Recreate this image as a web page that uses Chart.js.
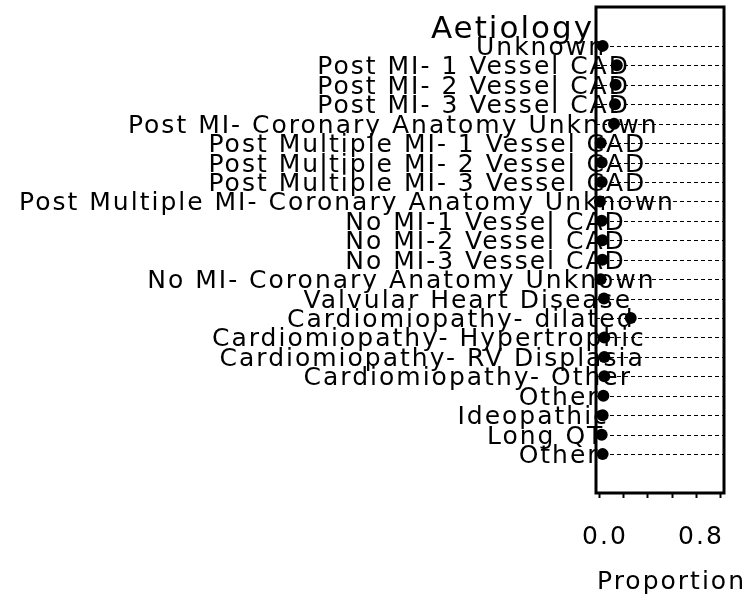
<!DOCTYPE html>
<html>
<head>
<meta charset="utf-8">
<script src="https://cdn.jsdelivr.net/npm/chart.js@4.4.0/dist/chart.umd.min.js"></script>
<style>
  html, body { margin: 0; padding: 0; background: #fff; }
  #wrap { width: 751px; height: 605px; }
</style>
</head>
<body>
<div id="wrap"><canvas id="dotChart" width="751" height="605"></canvas></div>
<script>
// Aetiology categories, top to bottom
const categories = [
    'Unknown',
    'Post MI- 1 Vessel CAD',
    'Post MI- 2 Vessel CAD',
    'Post MI- 3 Vessel CAD',
    'Post MI- Coronary Anatomy Unknown',
    'Post Multiple MI- 1 Vessel CAD',
    'Post Multiple MI- 2 Vessel CAD',
    'Post Multiple MI- 3 Vessel CAD',
    'Post Multiple MI- Coronary Anatomy Unknown',
    'No MI-1 Vessel CAD',
    'No MI-2 Vessel CAD',
    'No MI-3 Vessel CAD',
    'No MI- Coronary Anatomy Unknown',
    'Valvular Heart Disease',
    'Cardiomiopathy- dilated',
    'Cardiomiopathy- Hypertrophic',
    'Cardiomiopathy- RV Displasia',
    'Cardiomiopathy- Other',
    'Other',
    'Ideopathic',
    'Long QT',
    'Other'
];

// proportion per category
const proportions = [
    0.022, 0.140, 0.130, 0.125, 0.117,
    0.006, 0.014, 0.014, 0.000,
    0.014, 0.020, 0.020, 0.005,
    0.033, 0.256, 0.036, 0.036, 0.036,
    0.028, 0.022, 0.014, 0.022
];

const xTicks = [0, 0.2, 0.4, 0.6, 0.8, 1.0];
const xTickLabels = ['0.0', '', '', '', '0.8', ''];

const FONT = '"DejaVu Sans", sans-serif';

// dashed reference line per row, under the dots
const rowLines = {
    id: 'rowLines',
    beforeDatasetsDraw(chart) {
        const {ctx, chartArea, scales} = chart;
        ctx.save();
        ctx.strokeStyle = '#000';
        ctx.lineWidth = 1;
        ctx.setLineDash([4, 3]);
        categories.forEach((c, i) => {
            const y = Math.round(scales.y.getPixelForValue(i)) + 0.5;
            ctx.beginPath();
            ctx.moveTo(chartArea.left, y);
            ctx.lineTo(chartArea.right, y);
            ctx.stroke();
        });
        ctx.restore();
    }
};

// row labels spill over the panel, like the original device did
const rowLabels = {
    id: 'rowLabels',
    afterDatasetsDraw(chart) {
        const {ctx, chartArea, scales} = chart;
        ctx.save();
        ctx.letterSpacing = '2px';
        ctx.font = '25px ' + FONT;
        ctx.fillStyle = '#000';
        ctx.textAlign = 'left';
        ctx.textBaseline = 'alphabetic';
        const anchor = chartArea.left - 7;
        categories.forEach((c, i) => {
            const w = ctx.measureText(c).width;
            const y = scales.y.getPixelForValue(i);
            ctx.fillText(c, anchor - 0.869 * w, y + 9);
        });
        // panel title
        ctx.font = '31px ' + FONT;
        ctx.textAlign = 'right';
        ctx.fillText('Aetiology', chartArea.left - 2, 38);
        // x axis title (Chart.js would squeeze it to the panel width)
        ctx.font = '25px ' + FONT;
        ctx.textAlign = 'left';
        ctx.fillText('Proportion', chartArea.left + 1, chartArea.bottom + 96);
        ctx.restore();
    }
};

const panelBox = {
    id: 'panelBox',
    beforeDraw(chart) {
        // canvas resize wipes the state, so set the spacing here
        chart.ctx.letterSpacing = '2px';
    },
    afterDraw(chart) {
        const {ctx, chartArea} = chart;
        ctx.save();
        ctx.strokeStyle = '#000';
        ctx.lineWidth = 3;
        ctx.strokeRect(chartArea.left, chartArea.top,
            chartArea.right - chartArea.left, chartArea.bottom - chartArea.top);
        ctx.restore();
    }
};

const ctx = document.getElementById('dotChart').getContext('2d');
new Chart(ctx, {
    type: 'scatter',
    data: {
        datasets: [{
            data: proportions.map((p, i) => ({x: p, y: i})),
            backgroundColor: '#000',
            borderWidth: 0,
            pointRadius: 6,
            pointHoverRadius: 6,
            clip: false
        }]
    },
    options: {
        responsive: false,
        animation: false,
        events: [],
        layout: {
            padding: {left: 596, right: 27, top: 7, bottom: 29}
        },
        plugins: {
            legend: {display: false},
            tooltip: {enabled: false}
        },
        scales: {
            x: {
                type: 'linear',
                min: -0.0333,
                max: 1.0333,
                afterBuildTicks(scale) {
                    scale.ticks = xTicks.map(v => ({value: v}));
                },
                grid: {
                    drawOnChartArea: false,
                    drawTicks: true,
                    tickLength: 5,
                    tickWidth: 2,
                    color: '#000'
                },
                border: {display: false},
                ticks: {
                    autoSkip: false,
                    maxRotation: 0,
                    padding: 24,
                    labelOffset: 5,
                    color: '#000',
                    font: {family: FONT, size: 25},
                    callback: (v, i) => xTickLabels[i]
                },
                title: {display: false}
            },
            y: {
                type: 'linear',
                display: false,
                reverse: true,
                min: -2,
                max: 23
            }
        }
    },
    plugins: [rowLines, rowLabels, panelBox]
});
</script>
</body>
</html>
